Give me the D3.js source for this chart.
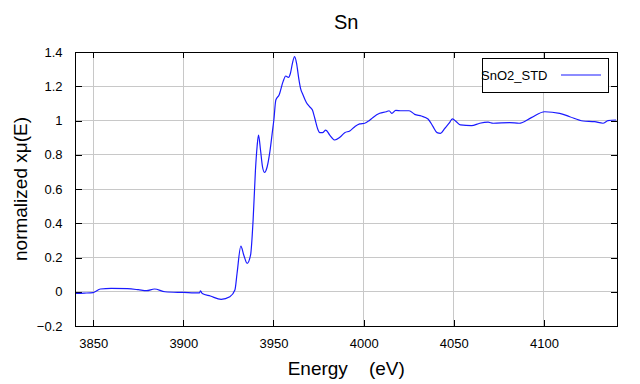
<!DOCTYPE html>
<html>
<head>
<meta charset="utf-8">
<script src="https://cdn.jsdelivr.net/npm/d3@7"></script>
<style>
  body { margin: 0; background: #fff; }
  text { font-family: "Liberation Sans", Arial, sans-serif; }
</style>
</head>
<body>
<svg></svg>
<script>
// spectrum (energy in eV, normalized xmu)
var energy = [3840, 3845, 3850, 3854, 3860, 3869, 3875, 3879.6, 3884, 3889.8, 3900, 3909, 3909.5, 3910.5, 3915, 3921, 3925.8,
  3928.6, 3929.8, 3931.9, 3933.5, 3935.4, 3937.3, 3938.7, 3940, 3940.9, 3941.7, 3942.8, 3943.9, 3945, 3946.5, 3948, 3949.5,
  3950.2, 3951.3, 3953.1, 3955.3, 3956.8, 3958.3, 3959.4, 3960.5, 3961.7, 3962.8, 3964, 3965, 3966.4, 3968.3, 3970.1, 3971.6,
  3972.9, 3974.4, 3975.7, 3977.2, 3979, 3981.2, 3984, 3986.8, 3989.5, 3992.3, 3995.1, 3997.8, 4000.6, 4003, 4005.2, 4008.9,
  4012.6, 4014.1, 4015.6, 4017.8, 4021, 4025.2, 4028.3, 4032, 4035.7, 4038.5, 4040.7, 4042.6, 4045, 4047.4, 4049.2, 4051.4,
  4053.7, 4059.8, 4064.4, 4069, 4071.8, 4081, 4086.2, 4093, 4100.4, 4108.7, 4114.3, 4121.7, 4128.1, 4132.7, 4135.5, 4140];
var mu = [-0.01, -0.008, -0.005, 0.016, 0.02, 0.018, 0.012, 0.006, 0.016, 0.0, -0.004, -0.007, 0.005, -0.01, -0.025, -0.044, -0.029,
  0.01, 0.108, 0.267, 0.215, 0.166, 0.215, 0.419, 0.711, 0.847, 0.915, 0.828, 0.73, 0.697, 0.73, 0.818, 0.944,
  1.003, 1.12, 1.149, 1.227, 1.26, 1.252, 1.276, 1.334, 1.373, 1.334, 1.246, 1.188, 1.149, 1.104, 1.08, 1.061,
  1.013, 0.954, 0.929, 0.929, 0.944, 0.915, 0.886, 0.902, 0.929, 0.939, 0.964, 0.98, 0.984, 0.999, 1.018, 1.042,
  1.051, 1.057, 1.042, 1.059, 1.057, 1.057, 1.036, 1.026, 1.009, 0.964, 0.929, 0.925, 0.954, 0.984, 1.009, 0.993,
  0.974, 0.97, 0.984, 0.99, 0.984, 0.988, 0.984, 1.017, 1.051, 1.042, 1.022, 0.997, 0.993, 0.984, 0.999, 1.003];
var xTicks = [3850, 3900, 3950, 4000, 4050, 4100];
var yTicks = [-0.2, 0, 0.2, 0.4, 0.6, 0.8, 1, 1.2, 1.4];
var seriesName = "SnO2_STD";

var svgWidth = 640, svgHeight = 384;
var margin = {top: 52, right: 23, bottom: 58, left: 75.5},
    width = svgWidth - margin.left - margin.right,
    height = svgHeight - margin.top - margin.bottom;

var svg = d3.select("svg").attr("width", svgWidth).attr("height", svgHeight);

var xScale = d3.scaleLinear().domain([3840.2, 4140.5]).range([0, width]);
var yScale = d3.scaleLinear().domain([-0.2, 1.4]).range([height, 0]);

var g = svg.append("g").attr("transform", "translate(" + margin.left + "," + margin.top + ")");

// grid
g.selectAll(".vgrid").data(xTicks).enter().append("line")
  .attr("x1", function(d) { return xScale(d); }).attr("x2", function(d) { return xScale(d); })
  .attr("y1", 0).attr("y2", height)
  .attr("stroke", "#c8c8c8").attr("shape-rendering", "crispEdges");
g.selectAll(".hgrid").data(yTicks).enter().append("line")
  .attr("y1", function(d) { return yScale(d); }).attr("y2", function(d) { return yScale(d); })
  .attr("x1", 0).attr("x2", width)
  .attr("stroke", "#c8c8c8").attr("shape-rendering", "crispEdges");

// axes, ticks pointing inward
var tickStyle = function(sel) {
  sel.select(".domain").remove();
  sel.selectAll(".tick line").attr("stroke", "#000").attr("shape-rendering", "crispEdges");
  sel.selectAll("text").attr("font-size", "13px").attr("fill", "#000");
};
g.append("g").attr("transform", "translate(0," + height + ")")
  .call(d3.axisBottom(xScale).tickValues(xTicks).tickSizeInner(-6).tickPadding(13).tickFormat(d3.format("d")))
  .call(tickStyle);
g.append("g")
  .call(d3.axisTop(xScale).tickValues(xTicks).tickSizeInner(-6).tickFormat(""))
  .call(tickStyle);
g.append("g")
  .call(d3.axisLeft(yScale).tickValues(yTicks).tickSizeInner(-6).tickPadding(13).tickFormat(d3.format("")))
  .call(tickStyle);
g.append("g").attr("transform", "translate(" + width + ",0)")
  .call(d3.axisRight(yScale).tickValues(yTicks).tickSizeInner(-6).tickFormat(""))
  .call(tickStyle);

// curve
var line = d3.line()
  .x(function(d, i) { return xScale(energy[i]); })
  .y(function(d) { return yScale(d); })
  .curve(d3.curveMonotoneX);
g.append("path").datum(mu)
  .attr("d", line)
  .attr("fill", "none").attr("stroke", "#1a1aff").attr("stroke-width", 1.2);

// frame
g.append("rect").attr("width", width).attr("height", height)
  .attr("fill", "none").attr("stroke", "#000").attr("shape-rendering", "crispEdges");

// legend
var lg = svg.append("g").attr("transform", "translate(482,58)");
lg.append("rect").attr("width", 126).attr("height", 34)
  .attr("fill", "#fff").attr("stroke", "#000").attr("shape-rendering", "crispEdges");
lg.append("text").attr("x", -1).attr("y", 22).attr("font-size", "13px").text(seriesName);
lg.append("line").attr("x1", 79).attr("x2", 119).attr("y1", 17).attr("y2", 17)
  .attr("stroke", "#1a1aff").attr("stroke-width", 1.2);

// titles
svg.append("text").attr("x", margin.left + width / 2).attr("y", 29)
  .attr("text-anchor", "middle").attr("font-size", "20px").text("Sn");
svg.append("text").attr("x", margin.left + width / 2).attr("y", 375)
  .attr("text-anchor", "middle").attr("font-size", "19px").attr("xml:space", "preserve")
  .style("white-space", "pre").text("Energy    (eV)");
svg.append("text")
  .attr("transform", "translate(27," + (margin.top + height / 2) + ") rotate(-90)")
  .attr("text-anchor", "middle").attr("font-size", "19px").text("normalized x\u03bc(E)");
</script>
</body>
</html>
